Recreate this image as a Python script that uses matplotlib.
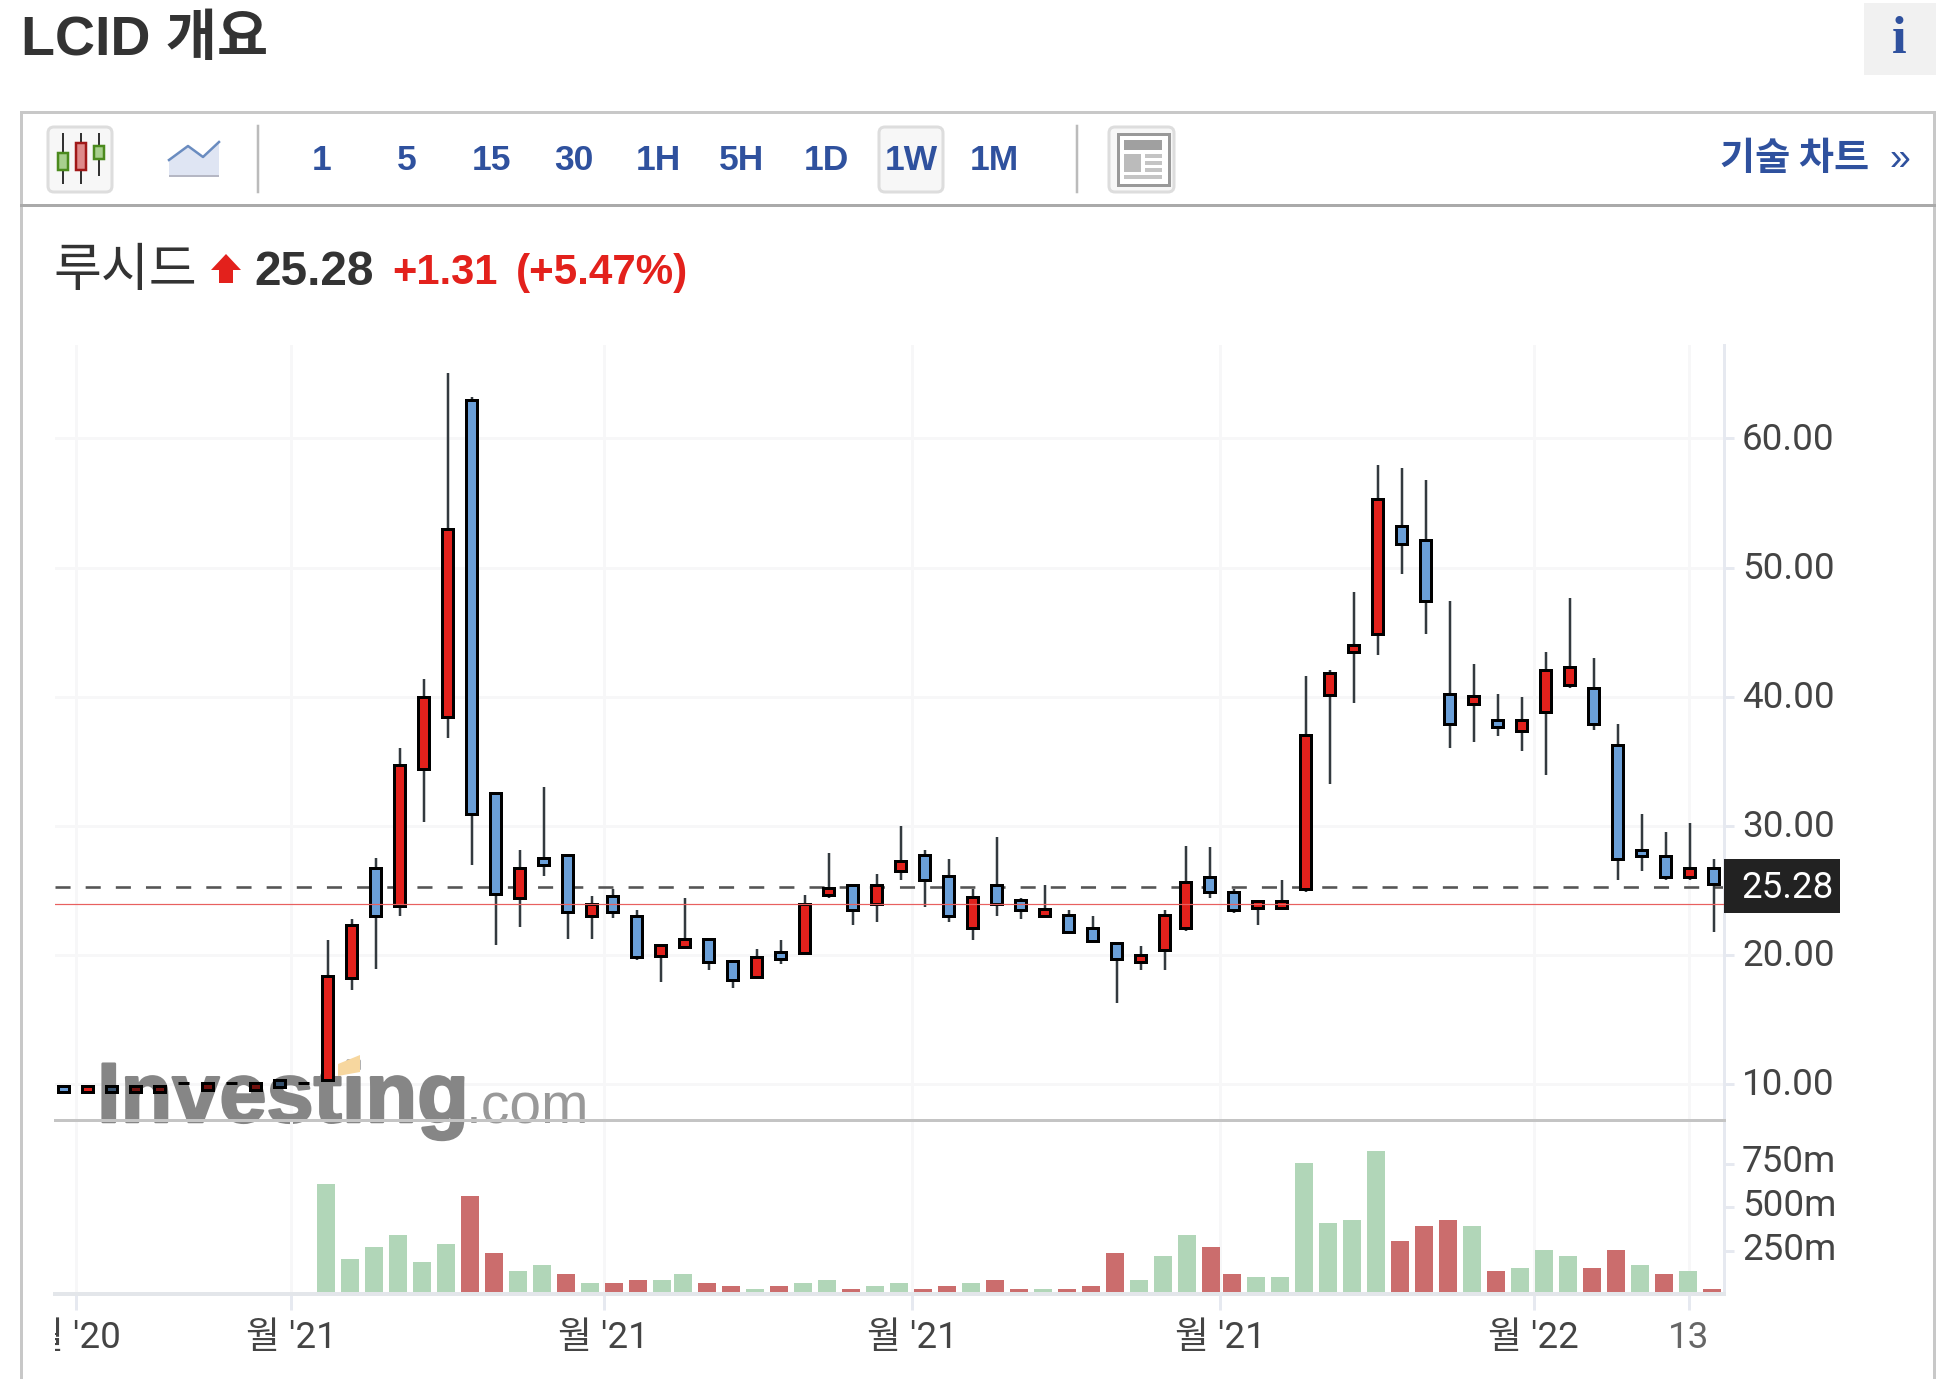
import numpy as np
import matplotlib
matplotlib.use('Agg')
import matplotlib.pyplot as plt
import matplotlib.patheffects as pe
from matplotlib.colors import to_rgb
from matplotlib.patches import Rectangle, FancyBboxPatch, Polygon
from matplotlib.transforms import Bbox, ScaledTranslation

W, H = 1946, 1379
KR = ['Roboto', 'Noto Sans CJK KR', 'DejaVu Sans']
BOLD_KR = ['Liberation Sans', 'Noto Sans CJK KR', 'DejaVu Sans']

opens = [9.85, 9.35, 9.85, 9.35, 9.35, 10.05, 9.56, 10.05, 9.56, 10.3, 10.05, 10.3, 18.2, 26.76, 23.75, 34.43, 38.4, 63.0,
         32.57, 24.43, 27.47, 27.7, 23.04, 24.6, 23.04, 19.95, 20.65, 21.2, 19.56, 18.32, 20.26, 20.18, 24.61, 25.39,
         23.91, 26.5, 27.72, 26.09, 22.05, 25.39, 24.22, 22.98, 23.06, 22.12, 20.96, 19.48, 20.41, 22.05, 26.05, 24.89,
         23.67, 23.67, 25.07, 40.17, 43.46, 44.88, 53.26, 52.12, 40.22, 39.47, 38.16, 37.38, 38.78, 40.9, 40.69, 36.27,
         28.12, 27.66, 26.03, 26.73]
closes = [9.35, 9.85, 9.35, 9.85, 9.85, 10.05, 10.05, 10.05, 10.05, 9.77, 10.05, 18.38, 22.33, 23.04, 34.7, 40.0, 53.0, 30.95,
          24.7, 26.76, 27.0, 23.3, 23.95, 23.3, 19.8, 20.73, 21.2, 19.48, 18.08, 19.8, 19.72, 23.96, 25.16, 23.45,
          25.39, 27.25, 25.78, 22.98, 24.46, 23.91, 23.45, 23.52, 21.79, 21.11, 19.72, 20.03, 23.06, 25.62, 24.84, 23.44,
          24.17, 24.17, 37.0, 41.85, 43.97, 55.35, 51.81, 47.41, 37.85, 40.02, 37.64, 38.16, 42.09, 42.32, 37.85, 27.4,
          27.63, 26.03, 26.73, 25.5]
highs = [9.85, 9.85, 9.85, 9.85, 9.85, 10.05, 10.05, 10.05, 10.05, 10.3, 10.05, 21.15, 22.8, 27.5, 36.0, 41.4, 65.06, 63.2,
         32.57, 28.14, 33.0, 27.7, 24.6, 25.1, 23.5, 20.73, 24.43, 21.2, 19.56, 20.47, 21.17, 24.66, 27.93, 25.39,
         26.3, 30.0, 28.16, 27.46, 25.13, 29.1, 24.43, 25.39, 23.5, 23.03, 20.96, 20.7, 23.47, 28.4, 28.38, 25.07,
         24.17, 25.77, 41.6, 42.06, 48.11, 57.91, 57.68, 56.75, 47.41, 42.53, 40.22, 40.0, 43.48, 47.65, 42.99, 37.87,
         30.89, 29.49, 30.19, 27.4]
lows = [9.35, 9.35, 9.35, 9.35, 9.35, 10.05, 9.56, 10.05, 9.56, 9.77, 10.05, 10.3, 17.3, 18.9, 23.04, 30.3, 36.8, 27.0,
        20.75, 22.17, 26.13, 21.2, 21.2, 22.85, 19.6, 17.9, 20.65, 18.83, 17.44, 18.13, 19.3, 20.0, 24.43, 22.33,
        22.56, 25.83, 23.73, 22.56, 21.14, 23.0, 22.77, 22.9, 21.63, 21.11, 16.27, 18.83, 18.83, 21.84, 24.4, 23.24,
        22.3, 23.49, 24.9, 33.27, 39.53, 43.22, 49.53, 44.88, 36.04, 36.5, 36.97, 35.8, 33.94, 40.69, 37.41, 25.8,
        26.47, 25.8, 25.8, 21.81]
volumes = [0, 0, 0, 0, 0, 0, 11, 0, 0, 11, 0, 632, 201, 270, 339, 184, 287, 563,
           236, 132, 167, 115, 63, 63, 80, 80, 115, 63, 46, 29, 46, 63, 80, 30,
           48, 65, 30, 48, 65, 82, 30, 30, 29, 46, 236, 80, 218, 339, 270, 115,
           98, 98, 753, 408, 425, 822, 305, 391, 425, 391, 132, 149, 253, 218, 149, 253,
           167, 115, 132, 29]
volume_up = [0, 0, 0, 0, 0, 0, 1, 0, 0, 0, 0, 1, 1, 1, 1, 1, 1, 0,
             0, 1, 1, 0, 1, 0, 0, 1, 1, 0, 0, 1, 0, 1, 1, 0,
             1, 1, 0, 0, 1, 0, 0, 1, 0, 0, 0, 1, 1, 1, 0, 0,
             1, 1, 1, 1, 1, 1, 0, 0, 0, 1, 0, 1, 1, 1, 0, 0,
             1, 0, 1, 0]
price_ticks = [10, 20, 30, 40, 50, 60]
vol_ticks = [250, 500, 750]
vol_labels = ['250m', '500m', '750m']
date_ticks = [0.5, 9.48, 22.5, 35.35, 48.2, 61.25, 67.73]
date_labels = ["월 '20", "월 '21", "월 '21", "월 '21", "월 '21", "월 '22", "13"]
last_price = 25.28
prev_close = 23.97
periods = ['1', '5', '15', '30', '1H', '5H', '1D', '1W', '1M']
period_x = [322, 407, 491, 574, 658, 742, 826.5, 911, 994]
# candles that sit under the logo look darker
under_logo = [2, 3, 4, 6, 8, 9]


def px(n):
    # pixels -> points
    return n * 0.72


fig = plt.figure(figsize=(W / 100, H / 100), dpi=100, facecolor='white')
L, R, TOP, MID, BOT = 55, 1724, 345, 1120, 1294
ax = fig.add_axes([L / W, 1 - MID / H, (R - L) / W, (MID - TOP) / H])
vol = fig.add_axes([L / W, 1 - BOT / H, (R - L) / W, (BOT - MID) / H])
vol.patch.set_visible(False)

n = len(opens)
idx = np.arange(n)
# a few weeks sit closer together than the rest
xs = idx - 0.125 * (idx >= 23) - 0.125 * (idx >= 47)
xv = idx - 0.0625 - 0.125 * (idx >= 26) - 0.125 * (idx >= 49)
xlim = ((L - 63.5) / 24, (R - 63.5) / 24)

grid = '#f7f7f8'
edge = '#e6e9f0'
lab_size = 26.5
for a in (ax, vol):
    a.set_xlim(xlim)
    a.set_axisbelow(True)
    for s in a.spines.values():
        s.set_visible(False)
    a.spines['right'].set_visible(True)
    a.spines['right'].set_color(edge)
    a.spines['right'].set_linewidth(px(3))
    a.set_xticks(date_ticks)
    a.xaxis.grid(True, color=grid, lw=px(3))
    a.yaxis.tick_right()
    a.tick_params(axis='y', length=px(10), width=px(3), color=edge, pad=px(8),
                  labelsize=lab_size, labelcolor='#444444')

# price
ax.set_ylim(10 + (1084 - MID) / 12.91, 10 + (1084 - TOP) / 12.91)
ax.set_yticks(price_ticks)
ax.set_yticklabels(['%.2f' % v for v in price_ticks], family='Roboto')
ax.yaxis.grid(True, color=grid, lw=px(3))
ax.tick_params(axis='x', length=0, labelbottom=False)
ax.axhline(last_price, color='#555555', lw=px(2.6), dashes=(5.8, 5.8), zorder=2)
ax.vlines(xs, lows, highs, color='#333a3f', lw=px(2.5), zorder=2.9)
colors = [to_rgb('#e2211c' if c > o else '#6a9fd8') for o, c in zip(opens, closes)]
for i in under_logo:
    colors[i] = tuple(0.5 * v for v in colors[i])
ax.bar(xs, np.array(closes) - np.array(opens), bottom=opens, width=0.48, color=colors,
       edgecolor='black', linewidth=px(3), zorder=3)
ax.axhline(prev_close, color='#e8605f', lw=px(1.2), zorder=4)

# volume
vol.set_ylim(0, (BOT - MID) / 0.174)
vol_colors = ['#b1d6b8' if u else '#cb6d6d' for u in volume_up]
vol.bar(xv, volumes, width=0.767, color=vol_colors, zorder=3)
vol.set_yticks(vol_ticks)
vol.set_yticklabels(vol_labels, family='Roboto')
vol.spines['bottom'].set_visible(True)
vol.spines['bottom'].set_color('#e3e6ea')
vol.spines['bottom'].set_linewidth(px(4))
vol.spines['bottom'].set_zorder(4)
vol.spines['top'].set_visible(True)
vol.spines['top'].set_color('#c4c4c4')
vol.spines['top'].set_linewidth(px(3))
vol.tick_params(axis='x', length=px(16), width=px(3), color=edge, pad=px(10), labelsize=lab_size, labelcolor='#444444')
vol.set_xticklabels(date_labels, family=KR)
for lab in vol.get_xticklabels():
    lab.set_clip_on(True)
    lab.set_clip_box(Bbox.from_extents(L, 0, W, H))
vol.get_xticklabels()[-1].set_color('#666666')

# labels sit a little above their ticks
for a, up in ((ax, 3), (vol, 5)):
    lift = ScaledTranslation(0, up / 100, fig.dpi_scale_trans)
    for lab in a.get_yticklabels():
        lab.set_transform(lab.get_transform() + lift)

# page chrome, in pixel coordinates
ov = fig.add_axes([0, 0, 1, 1], zorder=5)
ov.set_xlim(0, W)
ov.set_ylim(H, 0)
ov.axis('off')
blue_txt = '#2f519e'
ov.text(21, 41, 'LCID 개요', family=BOLD_KR, weight='bold', fontsize=40, color='#333333', va='center')
ov.add_patch(Rectangle((1864, 3), 72, 72, fc='#f1f1f1', ec='none'))
ov.text(1899, 40, 'i', family='Liberation Serif', weight='bold', fontsize=38, color=blue_txt, ha='center', va='center')
ov.plot([21, 21], [112, H], color='#c8c8c8', lw=px(3))
ov.plot([1934, 1934], [112, H], color='#c8c8c8', lw=px(3))
ov.plot([21, 1934], [112, 112], color='#c8c8c8', lw=px(3))
ov.plot([21, 1934], [205, 205], color='#aaaaaa', lw=px(3))
ov.plot([258, 258], [126, 192], color='#bbbbbb', lw=px(2.5))
ov.plot([1077, 1077], [126, 192], color='#bbbbbb', lw=px(2.5))
for x0, x1 in [(48, 112), (879, 943), (1109, 1174)]:
    ov.add_patch(FancyBboxPatch((x0, 127), x1 - x0, 65, boxstyle='round,pad=0,rounding_size=6',
                                fc='#f7f7f7', ec='#dddddd', lw=px(3)))
# candle icon
for x, wt, wb, bt, bb, fc, ec in [(63, 134, 183, 153, 170, '#a8cf8e', '#4b8a1d'),
                                  (81, 134, 183, 143, 170, '#de8a8a', '#a01818'),
                                  (99, 134, 175, 146, 159, '#a8cf8e', '#4b8a1d')]:
    ov.plot([x, x], [wt, wb], color='#333333', lw=px(2))
    ov.add_patch(Rectangle((x - 5, bt), 10, bb - bt, fc=fc, ec=ec, lw=px(2.5), zorder=3))
# area icon
ov.add_patch(Polygon([(169, 160), (188, 146), (203, 157), (219, 142), (219, 175), (169, 175)], fc='#dfe5f3', ec='none'))
ov.plot([169, 188, 203, 219], [160, 146, 157, 142], color='#6a8cc0', lw=px(2.5))
ov.add_patch(Rectangle((169, 175), 50, 2, fc='#b5b7c4', ec='none'))
# layout icon
ov.add_patch(Rectangle((1118, 134), 51, 51, fc='white', ec='#999999', lw=px(3)))
ov.add_patch(Rectangle((1124, 140), 38, 10, fc='#a0a0a0', ec='none'))
ov.add_patch(Rectangle((1124, 154), 17, 18, fc='#bbbbbb', ec='none'))
for y in (154, 161, 168):
    ov.add_patch(Rectangle((1145, y), 17, 4, fc='#c4c4c4', ec='none'))
ov.add_patch(Rectangle((1124, 175), 38, 3.5, fc='#c4c4c4', ec='none'))
for lab, x in zip(periods, period_x):
    ov.text(x, 161, lab, family='Liberation Sans', weight='bold', fontsize=25.5, color=blue_txt, ha='center', va='center')
ov.text(1720, 158.5, '기술 차트', family='Noto Sans CJK KR', weight='bold', fontsize=27.5, color=blue_txt, va='center')
ov.text(1900, 160, '»', family='Liberation Sans', fontsize=27, color=blue_txt, ha='center', va='center')

# quote line
ov.text(53, 271, '루시드', family='Noto Sans CJK KR', fontsize=37.5, color='#333333', va='center')
ov.add_patch(Polygon([(226, 254), (241, 270), (233, 270), (233, 283), (219, 283), (219, 270), (211, 270)], fc='#e3211c', ec='none'))
ov.text(254, 285, '25.28', family='Liberation Sans', weight='bold', fontsize=34.5, color='#333333', va='baseline')
ov.text(392, 284, '+1.31', family='Liberation Sans', weight='bold', fontsize=30, color='#e3211c', va='baseline')
ov.text(516, 284, '(+5.47%)', family='Liberation Sans', weight='bold', fontsize=30.3, color='#e3211c', va='baseline')

# last price tag
ov.add_patch(Rectangle((R, 859), 116, 54, fc='#222222', ec='none'))
ov.text(1741, 888, '%.2f' % last_price, family='Roboto', fontsize=lab_size, color='white', va='center')

# watermark goes under the candles
heavy = [pe.Stroke(linewidth=1.8, foreground='#868686'), pe.Normal()]
ax.text(97, 1122, 'Investing', transform=ov.transData, clip_on=False, family='Liberation Sans', weight='bold',
        fontsize=61, color='#868686', va='baseline', path_effects=heavy, zorder=2.5)
ax.text(466, 1123, '.com', transform=ov.transData, clip_on=False, family='Liberation Sans', fontsize=41,
        color='#999999', va='baseline', zorder=2.5)
ax.add_patch(Polygon([(338, 1064), (360, 1055), (360, 1072), (338, 1076)], transform=ov.transData, clip_on=False,
                     fc='#f7d79f', ec='none', zorder=2.6))

fig.savefig('out.png', dpi=100)
